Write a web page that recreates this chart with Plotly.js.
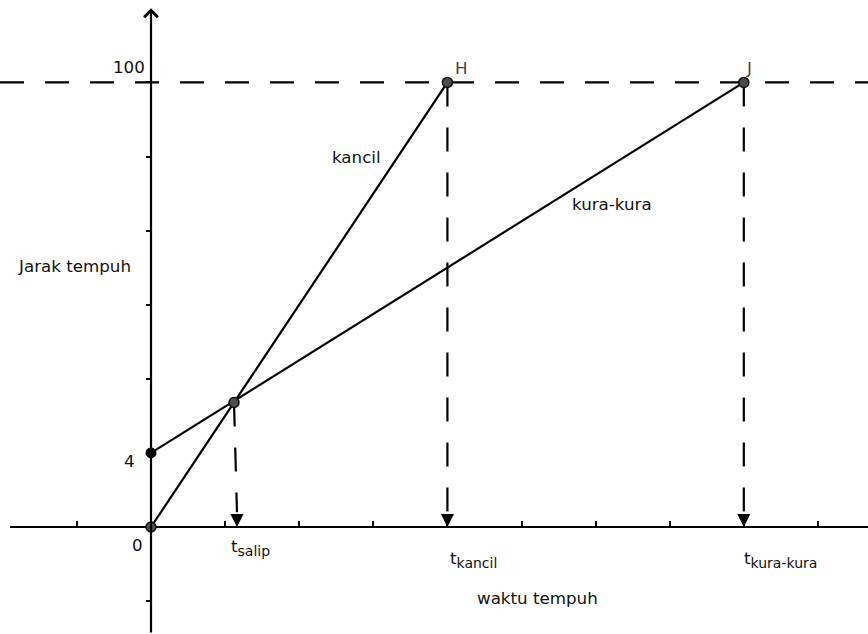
<!DOCTYPE html>
<html><head><meta charset="utf-8">
<script src="https://cdn.plot.ly/plotly-3.0.1.min.js"></script>
<style>html,body{margin:0;padding:0;background:#fff}#chart{width:868px;height:634px}</style>
</head><body><div id="chart"></div>
<script>
// Schematic coordinates: 1 unit = one grid tick
const kancilX = [0, 4];
const kancilY = [0, 6];
const kuraX = [0, 8];
const kuraY = [1, 6];
const salipX = 1.12, salipY = 1.68;
const finishY = 6;
const tKancil = 4, tKura = 8, tSalip = 1.16;
const xTicks = [-1, 1, 2, 3, 4, 5, 6, 7, 8, 9];
const yTicks = [-1, 1, 2, 3, 4, 5, 6];
const yLabelVals = [0, 1, 6];
const yLabelText = ['0', '4', '100'];
const pointNames = ['H', 'J'];
const xRange = [-2.038, 9.676];
const yRange = [-1.444, 7.112];
const xAxisStart = -1.903;
const yAxisTop = 7.0;

const FONT = 'DejaVu Sans, sans-serif';
const FS = 16.7;
const blk = '#000';
const dash = '24px,21px';
const LW = 2.2;

const traces = [
  {x: [xAxisStart, xRange[1]], y: [0, 0], mode: 'lines', line: {color: blk, width: LW}},
  {x: xRange, y: [finishY, finishY], mode: 'lines', line: {color: blk, width: LW, dash: dash}},
  {x: [tKancil, tKancil], y: [finishY, 0.2], mode: 'lines', line: {color: blk, width: LW, dash: dash}},
  {x: [tKura, tKura], y: [finishY, 0.2], mode: 'lines', line: {color: blk, width: LW, dash: dash}},
  {x: [salipX, tSalip], y: [salipY, 0.2], mode: 'lines', line: {color: blk, width: LW, dash: dash}},
  {x: kancilX, y: kancilY, mode: 'lines', line: {color: blk, width: LW}},
  {x: kuraX, y: kuraY, mode: 'lines', line: {color: blk, width: LW}},
  {x: [tSalip, tKancil, tKura], y: [0, 0, 0], mode: 'markers', cliponaxis: false,
   marker: {symbol: 'arrow-down', size: 13, color: blk, line: {width: 0}}},
  {x: [kancilX[0], salipX, kancilX[1], kuraX[1]], y: [kancilY[0], salipY, kancilY[1], kuraY[1]],
   mode: 'markers', cliponaxis: false,
   marker: {symbol: 'circle', size: 10, color: '#4d4d4d', line: {color: '#111', width: 1.5}}},
  {x: [kuraX[0]], y: [kuraY[0]], mode: 'markers', cliponaxis: false,
   marker: {symbol: 'circle', size: 10, color: '#000', line: {color: '#000', width: 1}}}
];

const txt = (x, y, text, opts) => Object.assign({x: x, y: y, xref: 'x', yref: 'y', text: text,
  showarrow: false, font: {family: FONT, size: FS, color: '#111'}}, opts || {});
const sub = (s) => 't<sub><span style="font-size:14px">' + s + '</span></sub>';

const annotations = [
  // y-axis with arrow
  {x: 0, y: yAxisTop, xref: 'x', yref: 'y', ax: 0, ay: yRange[0], axref: 'x', ayref: 'y',
   text: '', showarrow: true, arrowhead: 4, arrowsize: 1.2, arrowwidth: LW, arrowcolor: blk, standoff: 0},
  txt(0, yLabelVals[2], yLabelText[2], {xanchor: 'right', yanchor: 'middle', xshift: -4, yshift: 15}),
  txt(0, yLabelVals[1], yLabelText[1], {xanchor: 'right', yanchor: 'middle', xshift: -14, yshift: -8}),
  txt(0, yLabelVals[0], yLabelText[0], {xanchor: 'right', yanchor: 'middle', xshift: -6, yshift: -18}),
  txt(kancilX[1], finishY, pointNames[0], {xanchor: 'left', yanchor: 'middle', xshift: 6, yshift: 14, font: {family: FONT, size: FS, color: '#444'}}),
  txt(kuraX[1], finishY, pointNames[1], {xanchor: 'left', yanchor: 'middle', xshift: 0, yshift: 14, font: {family: FONT, size: FS, color: '#444'}}),
  txt(2.767, 4.993, 'kancil'),
  txt(6.221, 4.359, 'kura-kura'),
  txt(-1.039, 3.522, 'Jarak tempuh'),
  txt(5.209, -0.958, 'waktu tempuh'),
  txt(1.053, -0.28, sub('salip'), {xanchor: 'left', yanchor: 'middle'}),
  txt(4.008, -0.44, sub('kancil'), {xanchor: 'left', yanchor: 'middle'}),
  txt(7.976, -0.44, sub('kura-kura'), {xanchor: 'left', yanchor: 'middle'})
];

const layout = {
  width: 868, height: 634,
  margin: {l: 0, r: 0, t: 0, b: 0, pad: 0},
  paper_bgcolor: '#fff', plot_bgcolor: '#fff',
  showlegend: false,
  xaxis: {range: xRange, showgrid: false, zeroline: false, showline: false, showticklabels: false,
    ticks: 'inside', tickvals: xTicks, ticklen: 6, tickwidth: 2, tickcolor: blk,
    anchor: 'free', position: 107 / 634, fixedrange: true},
  yaxis: {range: yRange, showgrid: false, zeroline: false, showline: false, showticklabels: false,
    ticks: 'outside', tickvals: yTicks, ticklen: 5, tickwidth: 2, tickcolor: blk,
    anchor: 'free', position: 151 / 868, fixedrange: true},
  annotations: annotations
};

Plotly.newPlot('chart', traces, layout, {staticPlot: true, displayModeBar: false});
</script>
</body></html>
